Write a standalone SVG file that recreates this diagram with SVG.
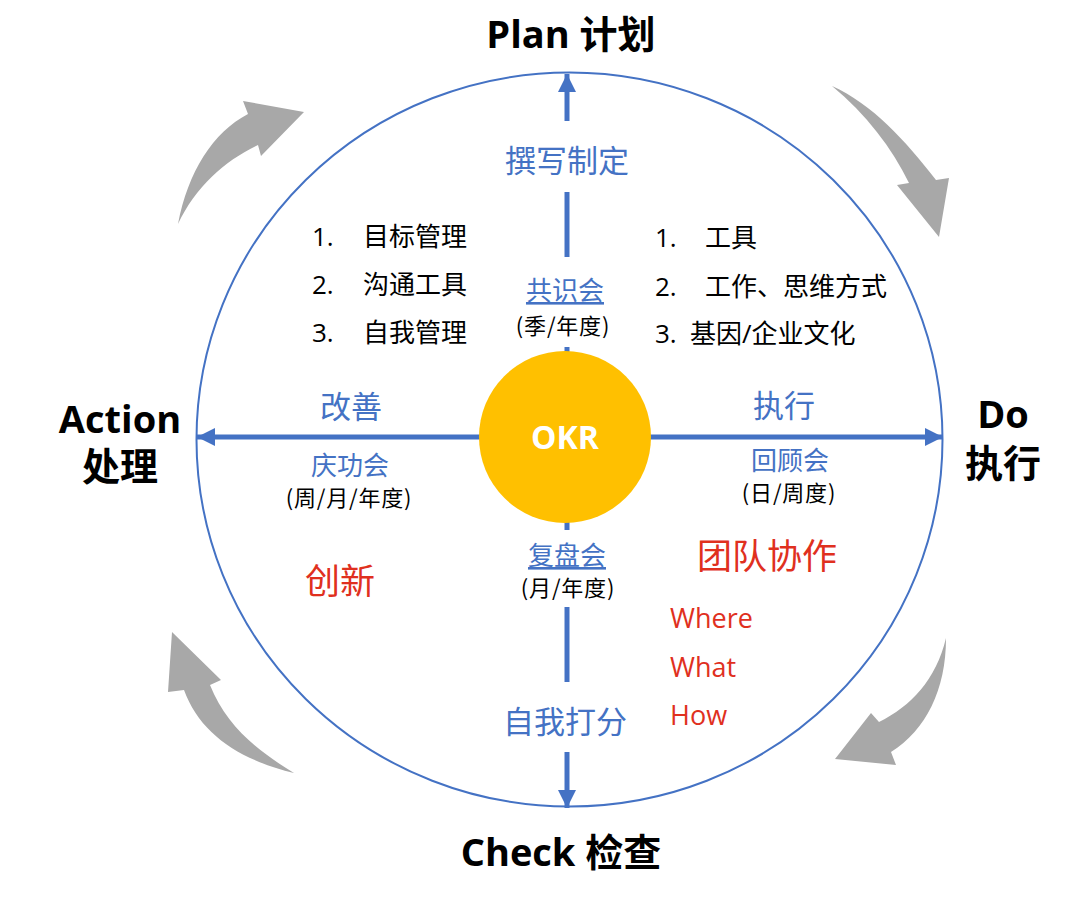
<svg xmlns="http://www.w3.org/2000/svg" width="1080" height="900" viewBox="0 0 1080 900">
<defs>
<marker id="ah" markerUnits="userSpaceOnUse" markerWidth="20" markerHeight="20" viewBox="0 0 20 20" refX="18" refY="10" orient="auto">
<path d="M0,1 L18,10 L0,19 Z" fill="#4472C4"/>
</marker>
</defs>
<style>
.t{font-family:"Open Sans","Noto Sans CJK SC",sans-serif;}
.title{font-family:"Open Sans","Noto Sans CJK SC",sans-serif;font-weight:bold;font-size:38px;fill:#000;text-anchor:middle;}
.blue{font-family:"Noto Sans CJK SC",sans-serif;fill:#4472C4;text-anchor:middle;}
.big{font-size:31px;}
.mid{font-size:26px;}
.sub{font-family:"Noto Sans CJK SC",sans-serif;font-size:22px;letter-spacing:0.8px;fill:#000;text-anchor:middle;}
.list{font-family:"Open Sans","Noto Sans CJK SC",sans-serif;font-size:26px;fill:#000;}
.red{font-family:"Noto Sans CJK SC",sans-serif;fill:#E0301E;}
.redl{font-family:"Open Sans",sans-serif;font-size:27px;fill:#E0301E;}
.ax{stroke:#4472C4;stroke-width:5;fill:none;}
.gray{fill:#A8A8A8;}
</style>
<rect width="1080" height="900" fill="#fff"/>

<g id="cycle-arrows">
<path class="gray" d="M178,224 C188,172 213,132 248,114 L243,101 L304,112 L261,156 L258,145 C226,160 196,186 178,224 Z"/>
<path class="gray" d="M832,86 C872,104 905,140 936,180 L949,178 L939,237 L897,185 L909,183 C892,148 866,114 832,86 Z"/>
<path class="gray" d="M294,773 C240,760 200,734 184,690 L168,692 L172,632 L221,680 L210,685 C226,725 256,750 294,773 Z"/>
<path class="gray" d="M946,638 C936,680 911,706 879,722 L871,713 L835,759 L896,765 L891,752 C926,730 946,690 946,638 Z"/>
</g>

<g id="outer-circle">
<ellipse cx="569.5" cy="439.5" rx="373" ry="367" fill="none" stroke="#4472C4" stroke-width="2"/>
</g>

<g id="connectors">
<line class="ax" x1="567" y1="121" x2="567" y2="74" marker-end="url(#ah)"/>
<line class="ax" x1="567" y1="192" x2="567" y2="257"/>
<line class="ax" x1="567" y1="347" x2="567" y2="370"/>
<line class="ax" x1="567" y1="505" x2="567" y2="530"/>
<line class="ax" x1="567" y1="607" x2="567" y2="682"/>
<line class="ax" x1="567" y1="752" x2="567" y2="808" marker-end="url(#ah)"/>
<line class="ax" x1="500" y1="437" x2="197" y2="437" marker-end="url(#ah)"/>
<line class="ax" x1="630" y1="437" x2="943" y2="437" marker-end="url(#ah)"/>
</g>

<g id="okr">
<circle cx="565" cy="437" r="86" fill="#FFC000"/>
<text class="t" x="565" y="449" font-size="32" font-weight="bold" fill="#fff" text-anchor="middle">OKR</text>
</g>

<g id="plan"><text class="title" x="571" y="48">Plan 计划</text></g>
<g id="action"><text class="title" x="120" y="433">Action</text><text class="title" x="120" y="480">处理</text></g>
<g id="do"><text class="title" x="1003" y="428">Do</text><text class="title" x="1003" y="477">执行</text></g>
<g id="check"><text class="title" x="561" y="866">Check 检查</text></g>

<g id="write">
<text class="blue big" x="567" y="172">撰写制定</text>
</g>
<g id="consensus">
<text class="blue mid" x="565" y="300" text-decoration="underline">共识会</text>
<text class="sub" x="563" y="334">(季/年度)</text>
</g>
<g id="improve">
<text class="blue big" x="351" y="418">改善</text>
</g>
<g id="celebrate">
<text class="blue mid" x="350" y="475">庆功会</text>
<text class="sub" x="349" y="506">(周/月/年度)</text>
</g>
<g id="execute">
<text class="blue big" x="784" y="417">执行</text>
</g>
<g id="review">
<text class="blue mid" x="790" y="470">回顾会</text>
<text class="sub" x="789" y="501">(日/周度)</text>
</g>
<g id="retro">
<text class="blue mid" x="567" y="565" text-decoration="underline">复盘会</text>
<text class="sub" x="568" y="596">(月/年度)</text>
</g>
<g id="selfscore">
<text class="blue big" x="565" y="733">自我打分</text>
</g>

<g id="left-list">
<text class="list" x="312" y="246">1.</text><text class="list" x="363" y="246">目标管理</text>
<text class="list" x="312" y="294">2.</text><text class="list" x="363" y="294">沟通工具</text>
<text class="list" x="312" y="342">3.</text><text class="list" x="363" y="342">自我管理</text>
</g>
<g id="right-list">
<text class="list" x="655" y="247">1.</text><text class="list" x="705" y="247">工具</text>
<text class="list" x="655" y="296">2.</text><text class="list" x="705" y="296">工作、思维方式</text>
<text class="list" x="655" y="343">3.</text><text class="list" x="690" y="343">基因/企业文化</text>
</g>

<g id="innovation">
<text class="red" x="340" y="594" font-size="35" text-anchor="middle">创新</text>
</g>
<g id="teamwork">
<text class="red" x="767" y="569" font-size="35" text-anchor="middle">团队协作</text>
<text class="redl" x="670" y="628">Where</text>
<text class="redl" x="670" y="677">What</text>
<text class="redl" x="670" y="725">How</text>
</g>
</svg>
